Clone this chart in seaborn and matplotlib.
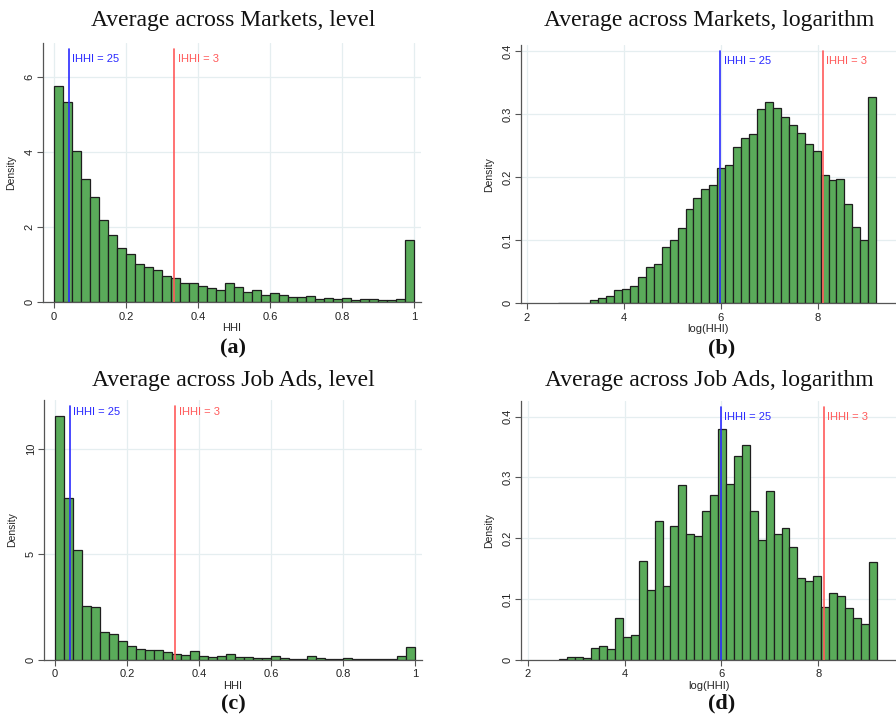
import numpy as np
import pandas as pd
import matplotlib
matplotlib.use("Agg")
import matplotlib.pyplot as plt
import seaborn as sns

# ---------------- data (density per bin) ----------------
level_markets = [5.77, 5.35, 4.04, 3.29, 2.81, 2.18, 1.79, 1.45, 1.28, 1.02,
                 0.95, 0.85, 0.69, 0.64, 0.52, 0.51, 0.44, 0.39, 0.34, 0.51,
                 0.41, 0.27, 0.32, 0.19, 0.25, 0.20, 0.15, 0.15, 0.16, 0.09,
                 0.12, 0.10, 0.11, 0.06, 0.09, 0.08, 0.05, 0.07, 0.10, 1.65]
level_jobads = [11.55, 7.68, 5.18, 2.56, 2.48, 1.33, 1.20, 0.90, 0.66, 0.52,
                0.46, 0.47, 0.35, 0.27, 0.21, 0.39, 0.16, 0.13, 0.19, 0.25,
                0.14, 0.14, 0.10, 0.06, 0.16, 0.09, 0.05, 0.03, 0.16, 0.06,
                0.05, 0.03, 0.08, 0.02, 0.03, 0.03, 0.02, 0.05, 0.16, 0.62]
log_markets = [0.001, 0.0008, 0.0008, 0.0, 0.006, 0.008, 0.012, 0.021, 0.022, 0.028,
               0.042, 0.058, 0.062, 0.090, 0.100, 0.119, 0.150, 0.167, 0.181, 0.188,
               0.215, 0.220, 0.248, 0.263, 0.269, 0.309, 0.320, 0.310, 0.295, 0.283,
               0.270, 0.253, 0.241, 0.204, 0.196, 0.198, 0.157, 0.121, 0.100, 0.328]
log_jobads = [0.001, 0.004, 0.004, 0.002, 0.020, 0.023, 0.018, 0.069, 0.038, 0.040,
              0.163, 0.115, 0.228, 0.122, 0.220, 0.287, 0.206, 0.203, 0.244, 0.271,
              0.380, 0.289, 0.335, 0.353, 0.245, 0.197, 0.278, 0.207, 0.217, 0.185,
              0.135, 0.130, 0.137, 0.086, 0.110, 0.105, 0.085, 0.069, 0.058, 0.160]

n_bins = 40
level_range = (0.0, 1.0)
log_range = (2.65, np.log(10000))

ihhi_values = [25, 3]
ihhi_labels = ["IHHI = 25", "IHHI = 3"]
ihhi_colors = ["#2a2aff", "#ff5a5a"]

titles = ["Average across Markets, level", "Average across Markets, logarithm",
          "Average across Job Ads, level", "Average across Job Ads, logarithm"]
panel_tags = ["(a)", "(b)", "(c)", "(d)"]

# ---------------- style ----------------
sns.set_theme(style="white")
plt.rcParams["font.family"] = ["Liberation Sans", "DejaVu Sans"]
SERIF = ["Liberation Serif", "DejaVu Serif"]

BAR_FILL = "#5aab5a"
BAR_EDGE = "#1e1e1e"
GRID = "#e5eef0"
AXC = "#555555"

fig = plt.figure(figsize=(8.96, 7.17), dpi=100)
W, H = 896.0, 717.0


def rect(l, t, r, b):
    return [l / W, 1 - b / H, (r - l) / W, (b - t) / H]


panels = [
    dict(data=level_markets, rng=level_range, kind="level", box=(43, 43, 421, 302.3),
         xlim=(-0.031, 1.019), ylim=(0, 6.91), yticks=[0, 2, 4, 6], yfmt="{:g}",
         title_xy=(233, 20.5), tag_xy=(233, 348), ann_y=0.938),
    dict(data=log_markets, rng=log_range, kind="log", box=(520.7, 45, 896, 303.3),
         xlim=(1.87, 9.62), ylim=(0, 0.41), yticks=[0, 0.1, 0.2, 0.3, 0.4], yfmt="{:g}",
         title_xy=(709.5, 20.5), tag_xy=(722, 348), ann_y=0.939),
    dict(data=level_jobads, rng=level_range, kind="level", box=(44, 399.7, 421.7, 659.7),
         xlim=(-0.031, 1.019), ylim=(0, 12.32), yticks=[0, 5, 10], yfmt="{:g}",
         title_xy=(233, 380), tag_xy=(233, 704.5), ann_y=0.953),
    dict(data=log_jobads, rng=log_range, kind="log", box=(521, 400.7, 896, 659.7),
         xlim=(1.855, 9.61), ylim=(0, 0.426), yticks=[0, 0.1, 0.2, 0.3, 0.4], yfmt="{:g}",
         title_xy=(709.5, 380), tag_xy=(722, 703.5), ann_y=0.937),
]

for i, p in enumerate(panels):
    ax = fig.add_axes(rect(*p["box"]))
    edges = np.linspace(p["rng"][0], p["rng"][1], n_bins + 1)
    centers = (edges[:-1] + edges[1:]) / 2
    df = pd.DataFrame({"x": centers, "density": p["data"]})
    sns.histplot(data=df, x="x", weights="density", bins=edges.tolist(), stat="count",
                 color=BAR_FILL, edgecolor=BAR_EDGE, linewidth=0.9, alpha=1.0,
                 ax=ax, zorder=2)

    ax.set_xlim(*p["xlim"])
    ax.set_ylim(*p["ylim"])

    if p["kind"] == "level":
        xt = [0, 0.2, 0.4, 0.6, 0.8, 1.0]
        ax.set_xticks(xt)
        ax.set_xticklabels(["{:g}".format(v) for v in xt])
        ax.set_xlabel("HHI", fontsize=8, labelpad=1)
        line_x = [1.0 / v for v in ihhi_values]
    else:
        xt = [2, 4, 6, 8]
        ax.set_xticks(xt)
        ax.set_xticklabels([str(v) for v in xt])
        ax.set_xlabel("log(HHI)", fontsize=8, labelpad=1)
        line_x = [np.log(10000.0 / v) for v in ihhi_values]

    ax.set_yticks(p["yticks"])
    ax.set_yticklabels([p["yfmt"].format(v) for v in p["yticks"]])
    ax.set_ylabel("Density", fontsize=7.5, labelpad=6)

    ax.grid(True, color=GRID, linewidth=0.9, zorder=0)
    ax.set_axisbelow(True)
    for s in ["top", "right"]:
        ax.spines[s].set_visible(False)
    for s in ["left", "bottom"]:
        ax.spines[s].set_color(AXC)
        ax.spines[s].set_linewidth(0.9)
    ax.tick_params(axis="both", which="both", direction="out", length=4, width=0.8,
                   color=AXC, labelsize=8, labelcolor="#222222", pad=3,
                   bottom=True, left=True)
    ax.tick_params(axis="y", labelrotation=90, pad=2)
    for lab in ax.get_yticklabels():
        lab.set_va("center")

    for lx, lt, lc in zip(line_x, ihhi_labels, ihhi_colors):
        ax.axvline(lx, ymin=0, ymax=0.975, color=lc, linewidth=1.2, zorder=3)
        ax.annotate(lt, xy=(lx, p["ann_y"]), xycoords=("data", "axes fraction"),
                    xytext=(2.5, 0), textcoords="offset points", ha="left", va="center",
                    color=lc, fontsize=8)

    tx, ty = p["title_xy"]
    fig.text(tx / W, 1 - ty / H, titles[i], ha="center", va="center",
             fontsize=17, family=SERIF, color="#111111")
    gx, gy = p["tag_xy"]
    fig.text(gx / W, 1 - gy / H, panel_tags[i], ha="center", va="center",
             fontsize=16, fontweight="bold", family=SERIF, color="#111111")

fig.savefig("out.png", dpi=100)
